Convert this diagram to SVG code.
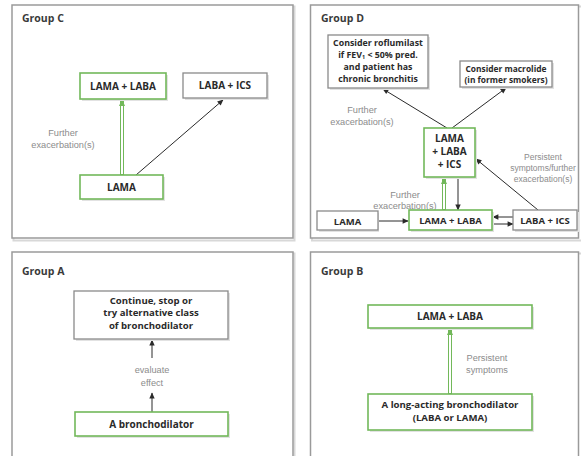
<svg xmlns="http://www.w3.org/2000/svg" width="581" height="456" viewBox="0 0 581 456">
<style>
.panel{fill:#fff;stroke:#9a9a9a;stroke-width:1.5}
.pshadow{fill:none;stroke:#d8d8d8;stroke-width:2}
.title{font-family:"Open Sans","Liberation Sans",sans-serif;font-weight:bold;font-size:10.5px;fill:#3a3a3a}
.box{fill:#fff;stroke:#8a8a8a;stroke-width:1.3}
.gbox{fill:#fff;stroke:#72b85a;stroke-width:1.6}
.shadow{fill:#e2e2e2}
.nt{font-family:"Open Sans","Liberation Sans",sans-serif;font-weight:bold;font-size:10px;fill:#2a2a2a;text-anchor:middle}
.nts{font-size:8.8px}
.ntm{font-size:9.6px}
.ntr{font-size:9.5px}
.ntx{font-size:8.4px}
.lbl{font-family:"Liberation Sans","Open Sans",sans-serif;font-size:9.2px;fill:#8c8c8c;text-anchor:middle}
.lbls{font-size:8.5px}
.arr{fill:none;stroke:#2a2a2a;stroke-width:1}
.garr{fill:none;stroke:#72b85a;stroke-width:4}
.gin{fill:none;stroke:#fff;stroke-width:2}
</style>
<defs>
<marker id="ah" viewBox="0 0 10 10" refX="9" refY="5" markerWidth="7" markerHeight="6" orient="auto" markerUnits="userSpaceOnUse"><path d="M0,0.5 L10,5 L0,9.5 z" fill="#2a2a2a"/></marker>
<marker id="gah" viewBox="0 0 10 10" refX="9" refY="5" markerWidth="7" markerHeight="7" orient="auto" markerUnits="userSpaceOnUse"><path d="M0,0.5 L10,5 L0,9.5 z" fill="#72b85a"/></marker>
</defs>
<rect width="581" height="456" fill="#fff"/>

<!-- Panels -->
<g id="panel-C">
<rect class="pshadow" x="13.5" y="6.5" width="281" height="234"/>
<rect class="panel" x="12" y="5" width="281" height="233"/>
<text class="title" x="22" y="22">Group C</text>
</g>
<g id="panel-D">
<rect class="pshadow" x="312" y="6.5" width="270" height="234"/>
<rect class="panel" x="310.5" y="5" width="268" height="233"/>
<text class="title" x="321" y="22">Group D</text>
</g>
<g id="panel-A">
<rect class="pshadow" x="13.5" y="253.5" width="281" height="220"/>
<rect class="panel" x="12" y="252" width="281" height="220"/>
<text class="title" x="22" y="275">Group A</text>
</g>
<g id="panel-B">
<rect class="pshadow" x="312" y="253.5" width="270" height="220"/>
<rect class="panel" x="310.5" y="252" width="268" height="220"/>
<text class="title" x="321" y="275">Group B</text>
</g>

<!-- Connectors -->
<g id="connectors">
<!-- Group C -->
<path class="garr" d="M122,175 V100" marker-end="url(#gah)"/>
<path class="gin" d="M122,174 V106"/>
<path class="arr" d="M136,175 L223,100" marker-end="url(#ah)"/>
<!-- Group D -->
<path class="arr" d="M447,128 L383,89" marker-end="url(#ah)"/>
<path class="arr" d="M452,128 L506,88" marker-end="url(#ah)"/>
<path class="garr" d="M444,210 V178" marker-end="url(#gah)"/>
<path class="gin" d="M444,209 V184"/>
<path class="arr" d="M458,178 V210" marker-end="url(#ah)"/>
<path class="arr" d="M538,210 L476,159" marker-end="url(#ah)"/>
<path class="arr" d="M378,221 H408" marker-end="url(#ah)"/>
<path class="arr" d="M513,217 H493" marker-end="url(#ah)"/>
<path class="arr" d="M493,224 H513" marker-end="url(#ah)"/>
<!-- Group A -->
<path class="arr" d="M152,358 V340" marker-end="url(#ah)"/>
<path class="arr" d="M152,412 V393" marker-end="url(#ah)"/>
<!-- Group B -->
<path class="garr" d="M450,394 V329" marker-end="url(#gah)"/>
<path class="gin" d="M450,393 V335"/>
</g>

<!-- Labels -->
<g id="labels">
<text class="lbl" x="63" y="136">Further</text>
<text class="lbl" x="63" y="148">exacerbation(s)</text>
<text class="lbl" x="362" y="113">Further</text>
<text class="lbl" x="362" y="125">exacerbation(s)</text>
<text class="lbl" x="405" y="198">Further</text>
<text class="lbl" x="405" y="209">exacerbation(s)</text>
<text class="lbl lbls" x="543" y="160">Persistent</text>
<text class="lbl lbls" x="543" y="171">symptoms/further</text>
<text class="lbl lbls" x="543" y="182">exacerbation(s)</text>
<text class="lbl" x="152" y="373">evaluate</text>
<text class="lbl" x="152" y="386">effect</text>
<text class="lbl" x="487" y="361">Persistent</text>
<text class="lbl" x="487" y="373">symptoms</text>
</g>

<!-- Group C nodes -->
<g id="c-lama-laba">
<rect class="shadow" x="82" y="75" width="86" height="26"/>
<rect class="gbox" x="80" y="73" width="86" height="26"/>
<text class="nt" x="123" y="89.5">LAMA + LABA</text>
</g>
<g id="c-laba-ics">
<rect class="shadow" x="185" y="75" width="84" height="25"/>
<rect class="box" x="183" y="73" width="84" height="25"/>
<text class="nt" x="225" y="89">LABA + ICS</text>
</g>
<g id="c-lama">
<rect class="shadow" x="82" y="177" width="83" height="24"/>
<rect class="gbox" x="80" y="175" width="83" height="24"/>
<text class="nt" x="121.5" y="190.5">LAMA</text>
</g>

<!-- Group D nodes -->
<g id="d-roflumilast">
<rect class="shadow" x="330" y="37" width="100" height="53"/>
<rect class="box" x="328" y="35" width="100" height="53"/>
<text class="nt nts" x="378" y="46">Consider roflumilast</text>
<text class="nt nts" x="378" y="58">if FEV<tspan font-size="5.5" dy="1.2">1</tspan><tspan dy="-1.2"> &lt; 50% pred.</tspan></text>
<text class="nt nts" x="378" y="70">and patient has</text>
<text class="nt nts" x="378" y="82">chronic bronchitis</text>
</g>
<g id="d-macrolide">
<rect class="shadow" x="462" y="63" width="92" height="26"/>
<rect class="box" x="460" y="61" width="92" height="26"/>
<text class="nt ntx" x="506" y="71.5">Consider macrolide</text>
<text class="nt ntx" x="506" y="83">(in former smokers)</text>
</g>
<g id="d-lama-laba-ics">
<rect class="shadow" x="426" y="130" width="51" height="49"/>
<rect class="gbox" x="424" y="128" width="51" height="49"/>
<text class="nt" x="449.5" y="142">LAMA</text>
<text class="nt" x="449.5" y="155">+ LABA</text>
<text class="nt" x="449.5" y="168">+ ICS</text>
</g>
<g id="d-lama">
<rect class="shadow" x="319" y="213" width="60" height="19"/>
<rect class="box" x="317" y="211" width="61" height="19"/>
<text class="nt ntr" x="347.5" y="224.5">LAMA</text>
</g>
<g id="d-lama-laba">
<rect class="shadow" x="411" y="212" width="83" height="20"/>
<rect class="gbox" x="409" y="210" width="83" height="20"/>
<text class="nt ntr" x="450.5" y="224">LAMA + LABA</text>
</g>
<g id="d-laba-ics">
<rect class="shadow" x="515" y="212" width="64" height="20"/>
<rect class="box" x="513" y="210" width="64" height="20"/>
<text class="nt ntr" x="545" y="224">LABA + ICS</text>
</g>

<!-- Group A nodes -->
<g id="a-continue">
<rect class="shadow" x="76" y="293" width="154" height="48"/>
<rect class="box" x="74" y="291" width="154" height="48"/>
<text class="nt ntm" x="151" y="303.5">Continue, stop or</text>
<text class="nt ntm" x="151" y="316">try alternative class</text>
<text class="nt ntm" x="151" y="328.5">of bronchodilator</text>
</g>
<g id="a-bronchodilator">
<rect class="shadow" x="77" y="414" width="153" height="24"/>
<rect class="gbox" x="75" y="412" width="153" height="24"/>
<text class="nt" x="151.5" y="427.5">A bronchodilator</text>
</g>

<!-- Group B nodes -->
<g id="b-lama-laba">
<rect class="shadow" x="370" y="307" width="164" height="23"/>
<rect class="gbox" x="368" y="305" width="164" height="23"/>
<text class="nt" x="450" y="320">LAMA + LABA</text>
</g>
<g id="b-long-acting">
<rect class="shadow" x="370" y="396" width="164" height="36"/>
<rect class="gbox" x="368" y="394" width="164" height="36"/>
<text class="nt ntm" x="450" y="408">A long-acting bronchodilator</text>
<text class="nt ntm" x="450" y="420.5">(LABA or LAMA)</text>
</g>
</svg>
